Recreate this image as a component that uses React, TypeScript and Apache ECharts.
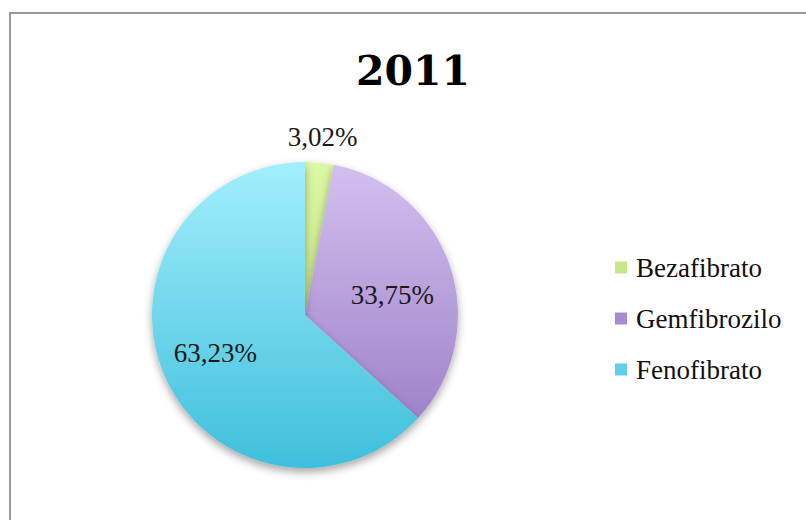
import React, { useEffect, useRef } from "react";
import * as echarts from "echarts";

const titleText = "2011";
const categories = ["Bezafibrato", "Gemfibrozilo", "Fenofibrato"];
const values = [3.02, 33.75, 63.23];
const labelTexts = ["3,02%", "33,75%", "63,23%"];

const topColors = ["#dcf7a6", "#d3c0f0", "#a3eefc"];
const bottomColors = ["#b2d766", "#9677c2", "#3fbfdc"];
const legendColors = ["#c6e68a", "#a68bd0", "#5fd0ea"];

const CX = 305;
const CY = 315;
const R = 153;
const SERIF = "'Liberation Serif', 'DejaVu Serif', serif";

export default function App() {
  const ref = useRef<HTMLDivElement>(null);
  useEffect(() => {
    if (!ref.current) return;
    const chart = echarts.init(ref.current, undefined, { renderer: "svg" });
    const labelOffsets: [number, number][] = [[10, -99], [12, 5], [-17, 6]];
    const data = categories.map((name, i) => ({
      name,
      value: values[i],
      itemStyle: {
        color: new echarts.graphic.LinearGradient(
          0, CY - R, 0, CY + R,
          [
            { offset: 0, color: topColors[i] },
            { offset: 1, color: bottomColors[i] },
          ],
          true
        ),
      },
      label: { position: "inside", offset: labelOffsets[i] },
    }));
    chart.setOption({
      animation: false,
      title: {
        text: titleText,
        left: 413,
        top: 50,
        padding: 0,
        textAlign: "center",
        textStyle: { fontFamily: "'DejaVu Serif', serif", fontWeight: "bold", fontSize: 41, color: "#000" },
      },
      legend: {
        orient: "vertical",
        left: 615,
        top: 254,
        padding: 0,
        itemWidth: 12,
        itemHeight: 12,
        itemGap: 24,
        icon: "rect",
        data: categories.map((name, i) => ({ name, itemStyle: { color: legendColors[i] } })),
        textStyle: { fontFamily: SERIF, fontSize: 27, color: "#111", padding: [0, 0, 0, 4] },
      },
      graphic: [
        {
          type: "rect",
          shape: { x: 10, y: 13, width: 900, height: 700 },
          style: { fill: "none", stroke: "#9a9a9a", lineWidth: 2 },
        },
      ],
      series: [
        {
          type: "pie",
          center: [CX, CY],
          radius: [0, R],
          startAngle: 90,
          clockwise: true,
          legendHoverLink: false,
          itemStyle: {
            shadowBlur: 8,
            shadowOffsetY: 4,
            shadowColor: "rgba(0,0,0,0.35)",
          },
          label: {
            show: true,
            formatter: (p: any) => labelTexts[p.dataIndex],
            fontFamily: SERIF,
            fontSize: 27,
            color: "#1a1a1a",
          },
          labelLine: { show: false },
          data,
        },
      ],
    });
    return () => chart.dispose();
  }, []);
  return (
    <div
      ref={ref}
      style={{ position: "fixed", left: 0, top: 0, width: 806, height: 520, background: "#fff" }}
    />
  );
}
